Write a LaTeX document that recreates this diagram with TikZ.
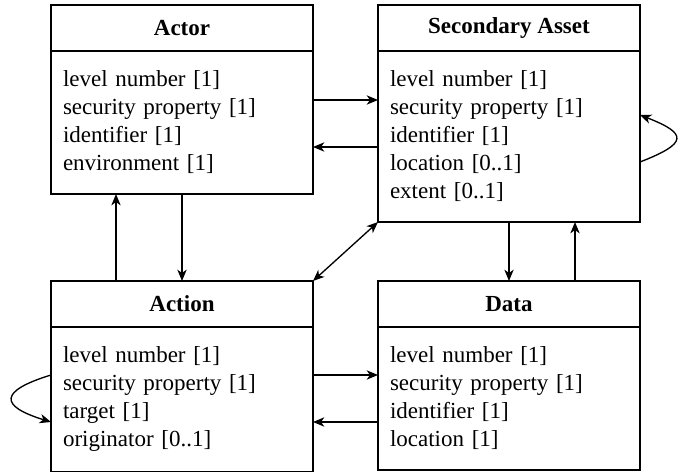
\documentclass[tikz,border=0pt]{standalone}
\usepackage{fontspec}
\setmainfont{Liberation Serif}
\usetikzlibrary{arrows.meta,positioning}
\tikzset{
  >={Stealth[length=8.5pt,width=7pt,inset=2.5pt]},
  classhead/.style={rectangle,draw,line width=1pt,outer sep=0pt,
                    minimum width=196.5pt,minimum height=34.5pt,
                    font=\fontsize{17.25}{21}\selectfont\bfseries},
  classbody/.style={rectangle,draw,line width=1pt,outer sep=0pt,
                    text width=178.5pt,inner xsep=9pt,inner ysep=15pt,
                    align=left,font=\fontsize{17.25}{21}\selectfont},
  divider/.style={line width=2pt},
  arr/.style={->,line width=1pt},
  biarr/.style={<->,line width=1pt},
}

\begin{document}
\begin{tikzpicture}[x=0.75pt,y=0.75pt]
  \useasboundingbox (0,0) rectangle (683,472);

  \node[classhead] (actor) at (182,444) {Actor};
  \node[classbody,below=0pt of actor] (actorattr)
    {level number [1]\\ security property [1]\\ identifier [1]\\ environment [1]};
  \node[classhead,right=48.75pt of actor] (asset) {Secondary Asset};
  \node[classbody,below=0pt of asset] (assetattr)
    {level number [1]\\ security property [1]\\ identifier [1]\\ location [0..1]\\ extent [0..1]};
  \node[classhead] (action) at (182,168) {Action};
  \node[classbody,below=0pt of action] (actionattr)
    {level number [1]\\ security property [1]\\ target [1]\\ originator [0..1]};
  \node[classhead,right=48.75pt of action] (data) {Data};
  \node[classbody,below=0pt of data] (dataattr)
    {level number [1]\\ security property [1]\\ identifier [1]\\ location [1]};

  \foreach \c in {actor,asset,action,data}
    \draw[divider] (\c.south west) -- (\c.south east);

  \draw[arr] ([yshift=-36.75pt]actorattr.north east) -- ([yshift=-36.75pt]assetattr.north west);
  \draw[arr] ([yshift=-72pt]assetattr.north west) -- ([yshift=-72pt]actorattr.north east);
  \draw[arr] ([xshift=48.75pt]action.north west) -- ([xshift=48.75pt]actorattr.south west);
  \draw[arr] (actorattr.south) -- (action.north);
  \draw[biarr] (action.north east) -- (assetattr.south west);
  \draw[arr] (assetattr.south) -- (data.north);
  \draw[arr] ([xshift=147.75pt]data.north west) -- ([xshift=147.75pt]assetattr.south west);
  \draw[arr] ([yshift=-36pt]actionattr.north east) -- ([yshift=-36pt]dataattr.north west);
  \draw[arr] ([yshift=-71.25pt]dataattr.north west) -- ([yshift=-71.25pt]actionattr.north east);
  \draw[arr] ([yshift=-83.25pt]assetattr.north east)
    .. controls +(36pt,14pt) and +(36pt,-14pt) .. ([yshift=-48pt]assetattr.north east);
  \draw[arr] ([yshift=-36pt]actionattr.north west)
    .. controls +(-39pt,-12pt) and +(-39pt,12pt) .. ([yshift=-71.25pt]actionattr.north west);
\end{tikzpicture}
\end{document}
